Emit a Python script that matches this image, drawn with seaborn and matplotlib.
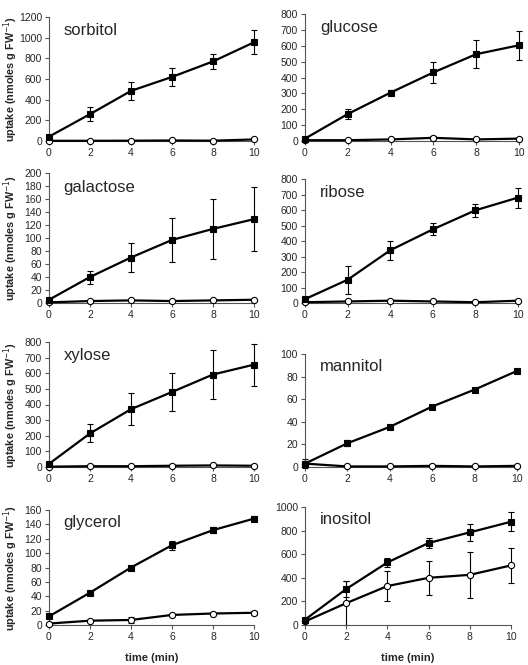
import numpy as np
import pandas as pd
import matplotlib
matplotlib.use("Agg")
import matplotlib.pyplot as plt
import seaborn as sns

time = [0, 2, 4, 6, 8, 10]
sugars = ["sorbitol", "glucose", "galactose", "ribose",
          "xylose", "mannitol", "glycerol", "inositol"]

# filled squares (mean, sd) and open circles (mean, sd)
sorbitol_on = [42, 260, 485, 620, 770, 955]
sorbitol_on_sd = [10, 70, 85, 85, 75, 115]
sorbitol_off = [2, 2, 3, 5, 3, 15]
sorbitol_off_sd = [0, 0, 0, 0, 0, 0]

glucose_on = [15, 170, 305, 432, 547, 603]
glucose_on_sd = [5, 30, 15, 67, 87, 90]
glucose_off = [5, 5, 10, 20, 10, 15]
glucose_off_sd = [0, 0, 0, 10, 0, 0]

galactose_on = [5, 40, 70, 97, 114, 129]
galactose_on_sd = [1, 10, 22, 34, 46, 49]
galactose_off = [1, 3, 4, 3, 4, 5]
galactose_off_sd = [0, 0, 0, 0, 0, 0]

ribose_on = [25, 150, 340, 475, 598, 680]
ribose_on_sd = [5, 90, 60, 38, 43, 65]
ribose_off = [5, 10, 15, 10, 5, 15]
ribose_off_sd = [0, 0, 0, 0, 0, 0]

xylose_on = [20, 215, 370, 480, 592, 655]
xylose_on_sd = [5, 58, 102, 120, 158, 135]
xylose_off = [2, 5, 5, 8, 10, 8]
xylose_off_sd = [0, 0, 0, 0, 0, 0]

mannitol_on = [3, 21, 35.5, 53.5, 68.5, 85]
mannitol_on_sd = [4, 2.5, 1, 1, 1, 1]
mannitol_off = [3, 0.5, 0.5, 1, 0.5, 1]
mannitol_off_sd = [0, 0, 0, 0, 0, 0]

glycerol_on = [12, 45, 80, 111, 132, 148]
glycerol_on_sd = [2, 3, 2, 6, 4, 3]
glycerol_off = [2, 6, 7, 14, 16, 17]
glycerol_off_sd = [0, 1, 4, 1, 1, 3]

inositol_on = [45, 305, 530, 695, 785, 875]
inositol_on_sd = [10, 70, 35, 45, 72, 80]
inositol_off = [30, 185, 330, 400, 425, 505]
inositol_off_sd = [5, 185, 128, 145, 195, 145]

series = {
    "sorbitol": (sorbitol_on, sorbitol_on_sd, sorbitol_off, sorbitol_off_sd),
    "glucose": (glucose_on, glucose_on_sd, glucose_off, glucose_off_sd),
    "galactose": (galactose_on, galactose_on_sd, galactose_off, galactose_off_sd),
    "ribose": (ribose_on, ribose_on_sd, ribose_off, ribose_off_sd),
    "xylose": (xylose_on, xylose_on_sd, xylose_off, xylose_off_sd),
    "mannitol": (mannitol_on, mannitol_on_sd, mannitol_off, mannitol_off_sd),
    "glycerol": (glycerol_on, glycerol_on_sd, glycerol_off, glycerol_off_sd),
    "inositol": (inositol_on, inositol_on_sd, inositol_off, inositol_off_sd),
}
ymax = {"sorbitol": 1200, "glucose": 800, "galactose": 200, "ribose": 800,
        "xylose": 800, "mannitol": 100, "glycerol": 160, "inositol": 1000}
ystep = {"sorbitol": 200, "glucose": 100, "galactose": 20, "ribose": 100,
         "xylose": 100, "mannitol": 20, "glycerol": 20, "inositol": 200}

sns.set_style("ticks")
plt.rcParams['font.family'] = ['Liberation Sans', 'DejaVu Sans']

W, H = 528, 665
fig = plt.figure(figsize=(W / 100, H / 100), dpi=100)

# pixel boxes (left, right, top, bottom)
boxes = {
    "sorbitol": (49, 254, 17, 141), "glucose": (305, 519, 14, 141),
    "galactose": (49, 254, 173, 303), "ribose": (305, 518, 179, 303),
    "xylose": (49, 254, 342, 467), "mannitol": (305, 517, 354, 467),
    "glycerol": (49, 254, 510, 625), "inositol": (305, 511, 507, 625),
}

for i, name in enumerate(sugars):
    l, r, t, b = boxes[name]
    ax = fig.add_axes([l / W, 1 - b / H, (r - l) / W, (b - t) / H])
    on, on_sd, off, off_sd = series[name]
    df = pd.DataFrame({"time": time * 2, "uptake": on + off,
                       "sd": on_sd + off_sd,
                       "cond": ["on"] * 6 + ["off"] * 6})
    for cond, mk, fc in [("off", "o", "white"), ("on", "s", "black")]:
        d = df[df.cond == cond]
        ax.errorbar(d.time, d.uptake, yerr=d.sd, fmt="none", ecolor="black",
                    elinewidth=0.8, capsize=2.5, capthick=0.8, clip_on=False,
                    zorder=2)
        sns.lineplot(data=d, x="time", y="uptake", ax=ax, color="black",
                     linewidth=1.6, marker=mk, markersize=4.5,
                     markerfacecolor=fc, markeredgecolor="black",
                     markeredgewidth=0.8, clip_on=False, zorder=3)
    ax.set_xlim(0, 10)
    ax.set_ylim(0, ymax[name])
    ax.set_xticks(time)
    ax.set_yticks(np.arange(0, ymax[name] + 1, ystep[name]))
    ax.tick_params(labelsize=7.5, length=3, width=0.8, color="#555555", pad=2)
    for s in ["top", "right"]:
        ax.spines[s].set_visible(False)
    for s in ["left", "bottom"]:
        ax.spines[s].set_color("#555555")
        ax.spines[s].set_linewidth(0.8)
    ax.set_xlabel("")
    ax.set_ylabel("")
    ax.text(0.07, 0.89, name, transform=ax.transAxes, fontsize=12,
            ha="left", va="center")
    if i % 2 == 0:
        fig.text(11 / W, 1 - (t + b) / 2 / H, "uptake (nmoles g FW$^{-1}$)",
                 rotation=90, ha="center", va="center", fontsize=7.8,
                 fontweight="bold")
    if i >= 6:
        fig.text((l + r) / 2 / W + 0.0, 1 - 658 / H, "time (min)",
                 ha="center", va="center", fontsize=8, fontweight="bold")

fig.savefig("out.png", dpi=100)
